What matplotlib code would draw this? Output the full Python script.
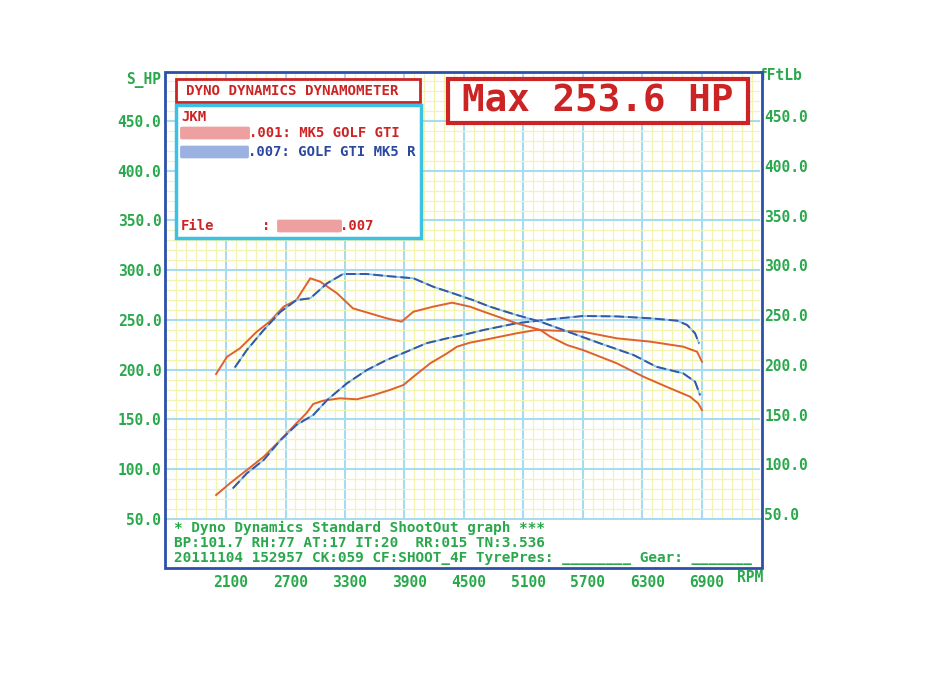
import matplotlib
matplotlib.use('Agg')
import matplotlib.pyplot as plt
from matplotlib.patches import Rectangle, FancyBboxPatch
from matplotlib.ticker import MultipleLocator, FixedLocator
import matplotlib.transforms as mtransforms

# ---------------- data ----------------
rpm_ticks = [2100, 2700, 3300, 3900, 4500, 5100, 5700, 6300, 6900]
hp_ticks = [50, 100, 150, 200, 250, 300, 350, 400, 450]
tq_ticks = [50, 100, 150, 200, 250, 300, 350, 400, 450]

# run .001 MK5 GOLF GTI (red)
red_tq_rpm = [2000, 2110, 2240, 2410, 2540, 2680, 2810, 2950, 3050, 3220, 3380, 3550, 3720,
              3870, 3990, 4190, 4380, 4560, 4700, 5030, 5270, 5370, 5540, 5700, 6040, 6310,
              6540, 6780, 6860, 6900]
red_tq = [190.7, 208.0, 216.5, 233.2, 243.3, 258.3, 265.0, 286.9, 283.5, 271.8, 256.7, 251.7,
          246.7, 243.3, 253.3, 258.4, 262.4, 258.4, 253.3, 241.7, 235.0, 228.2, 219.8, 214.8,
          201.5, 188.0, 178.0, 167.9, 161.3, 154.5]
red_hp_rpm = [2000, 2140, 2310, 2480, 2650, 2810, 2910, 2980, 3080, 3250, 3420, 3590, 3750,
              3890, 3990, 4160, 4330, 4430, 4560, 4700, 5030, 5230, 5700, 6040, 6380, 6710,
              6850, 6900]
red_hp = [74.1, 85.9, 99.2, 112.6, 129.4, 146.2, 156.2, 165.6, 168.9, 171.3, 170.3, 174.6,
          179.6, 184.7, 193.0, 206.5, 216.5, 223.2, 227.2, 229.9, 236.6, 240.0, 238.2, 231.6,
          228.2, 223.2, 218.1, 208.1]

# run .007 GOLF GTI MK5 R (blue)
blue_tq_rpm = [2190, 2310, 2480, 2650, 2810, 2950, 3120, 3280, 3520, 3720, 3990, 4190, 4390,
               4590, 4760, 5030, 5270, 5640, 5870, 6210, 6440, 6710, 6830, 6880]
blue_tq = [197.4, 214.8, 234.9, 253.3, 265.0, 266.8, 281.9, 291.2, 291.2, 289.2, 286.9, 278.4,
           271.8, 265.0, 258.4, 250.0, 243.3, 229.9, 221.6, 209.8, 198.0, 191.4, 183.0, 169.6]
blue_hp_rpm = [2170, 2310, 2480, 2650, 2810, 2980, 3120, 3320, 3520, 3720, 3920, 4120, 4330,
               4490, 4700, 5030, 5370, 5700, 6040, 6380, 6650, 6750, 6830, 6870]
blue_hp = [80.9, 95.9, 109.3, 129.4, 144.5, 154.5, 169.6, 186.4, 199.7, 209.8, 218.1, 226.6,
           231.6, 234.9, 240.0, 246.7, 250.7, 254.0, 253.6, 251.7, 249.3, 245.0, 236.6, 226.6]

# ---------------- style ----------------
W, H = 950, 674
GREEN = '#2aa84c'
RED = '#cc2424'
BLUE = '#2a48a0'
CYAN_BOX = '#3cc0e4'
FRAME = '#2c50a8'
LINE_RED = '#e0602e'
LINE_BLUE = '#3656aa'
LINE_BLUE_LIGHT = '#86c6e4'
MONO = 'DejaVu Sans Mono'

fig = plt.figure(figsize=(9.5, 6.74), dpi=100)
fig.patch.set_facecolor('white')


def fx(px):
    return px / W


def fy(py):
    return 1 - py / H


ax = fig.add_axes([fx(167), fy(519), fx(760) - fx(167), fy(74) - fy(519)])
ax.set_xlim(1505, 7485)
ax.set_ylim(50, 497.2)
ax.set_facecolor('white')
for s in ax.spines.values():
    s.set_visible(False)

ax.xaxis.set_major_locator(FixedLocator(rpm_ticks))
ax.xaxis.set_minor_locator(MultipleLocator(100))
ax.yaxis.set_major_locator(FixedLocator(hp_ticks))
ax.yaxis.set_minor_locator(MultipleLocator(10))
ax.set_axisbelow(True)
ax.grid(which='minor', color='#f3f3b2', linewidth=0.9)
ax.grid(which='major', color='#a6dcee', linewidth=1.5)

ax.set_xticklabels([str(v) for v in rpm_ticks])
ax.set_yticklabels(['%.1f' % v for v in hp_ticks])
ax.tick_params(axis='both', which='both', length=0)
ax.tick_params(axis='x', pad=40, labelsize=10.5, labelcolor=GREEN)
ax.tick_params(axis='y', pad=4, labelsize=10.5, labelcolor=GREEN)
for lab in ax.get_xticklabels() + ax.get_yticklabels():
    lab.set_fontfamily(MONO)
    lab.set_fontweight('bold')
offset = mtransforms.ScaledTranslation(5 / 100, 0, fig.dpi_scale_trans)
for lab in ax.get_xticklabels():
    lab.set_transform(lab.get_transform() + offset)

ax2 = ax.twinx()
ax2.set_ylim(45, 492.2)
for s in ax2.spines.values():
    s.set_visible(False)
ax2.yaxis.set_major_locator(FixedLocator(tq_ticks))
ax2.set_yticklabels(['%.1f' % v for v in tq_ticks])
ax2.tick_params(axis='y', length=0, pad=3, labelsize=10.5, labelcolor=GREEN)
for lab in ax2.get_yticklabels():
    lab.set_fontfamily(MONO)
    lab.set_fontweight('bold')

# curves
ax.plot(red_hp_rpm, red_hp, color=LINE_RED, lw=1.4, zorder=3)
ax2.plot(red_tq_rpm, red_tq, color=LINE_RED, lw=1.4, zorder=3)
ax.plot(blue_hp_rpm, blue_hp, color=LINE_BLUE_LIGHT, lw=1.3, zorder=3)
ax.plot(blue_hp_rpm, blue_hp, color=LINE_BLUE, lw=1.4, dashes=(5, 2), zorder=4)
ax2.plot(blue_tq_rpm, blue_tq, color=LINE_BLUE_LIGHT, lw=1.3, zorder=3)
ax2.plot(blue_tq_rpm, blue_tq, color=LINE_BLUE, lw=1.4, dashes=(5, 2), zorder=4)

# outer frame (includes footer area)
fig.add_artist(Rectangle((fx(165), fy(568)), fx(762) - fx(165), fy(72) - fy(568),
                         transform=fig.transFigure, fill=False, edgecolor=FRAME, lw=2.0, zorder=10))
# footer white region
fig.add_artist(Rectangle((fx(166), fy(567)), fx(761) - fx(166), fy(520) - fy(567),
                         transform=fig.transFigure, facecolor='white', edgecolor='none', zorder=5))
fig.add_artist(plt.Line2D([fx(166), fx(761)], [fy(519), fy(519)], transform=fig.transFigure,
                          color='#a6dcee', lw=1.4, zorder=6))

# axis unit labels
fig.text(fx(161), fy(80), 'S_HP', ha='right', va='center', color=GREEN, fontsize=10.5,
         family=MONO, weight='bold')
fig.text(fx(759), fy(75), 'fFtLb', ha='left', va='center', color=GREEN, fontsize=10.5,
         family=MONO, weight='bold')
fig.text(fx(737), fy(578), 'RPM', ha='left', va='center', color=GREEN, fontsize=10.5,
         family=MONO, weight='bold')

# header box
fig.add_artist(Rectangle((fx(176), fy(102)), fx(420) - fx(176), fy(79) - fy(102),
                         transform=fig.transFigure, facecolor='white', edgecolor=RED, lw=2.0, zorder=11))
fig.text(fx(186), fy(91), 'DYNO DYNAMICS DYNAMOMETER', ha='left', va='center', color=RED,
         fontsize=10.2, family=MONO, weight='bold', zorder=12)

# legend box
fig.add_artist(Rectangle((fx(176), fy(238)), fx(421) - fx(176), fy(105) - fy(238),
                         transform=fig.transFigure, facecolor='white', edgecolor=CYAN_BOX, lw=2.5, zorder=11))
fig.text(fx(181), fy(117), 'JKM', ha='left', va='center', color=RED, fontsize=10,
         family=MONO, weight='bold', zorder=12)
# redacted smudges
for (x0, x1, yc, col) in [(182, 248, 133, '#eb8e8e'), (182, 247, 152, '#8aa4dc'),
                          (279, 340, 226, '#eb8e8e')]:
    fig.add_artist(FancyBboxPatch((fx(x0), fy(yc + 5)), fx(x1) - fx(x0), fy(yc - 5) - fy(yc + 5),
                                  boxstyle='round,pad=0.002', transform=fig.transFigure,
                                  facecolor=col, edgecolor='none', alpha=0.85, zorder=12))
fig.text(fx(249), fy(133), '.001: MK5 GOLF GTI', ha='left', va='center', color=RED,
         fontsize=10, family=MONO, weight='bold', zorder=12)
fig.text(fx(248), fy(152), '.007: GOLF GTI MK5 R', ha='left', va='center', color=BLUE,
         fontsize=10, family=MONO, weight='bold', zorder=12)
fig.text(fx(181), fy(226), 'File', ha='left', va='center', color=RED, fontsize=10,
         family=MONO, weight='bold', zorder=12)
fig.text(fx(262), fy(226), ':', ha='left', va='center', color=RED, fontsize=10,
         family=MONO, weight='bold', zorder=12)
fig.text(fx(340), fy(226), '.007', ha='left', va='center', color=RED, fontsize=10,
         family=MONO, weight='bold', zorder=12)

# max box
fig.add_artist(Rectangle((fx(448), fy(123)), fx(748) - fx(448), fy(79) - fy(123),
                         transform=fig.transFigure, facecolor='white', edgecolor=RED, lw=3.0, zorder=11))
fig.text(fx(598), fy(101), 'Max 253.6 HP', ha='center', va='center', color=RED,
         fontsize=27, family=MONO, weight='bold', zorder=12)

# footer text
footer = ['* Dyno Dynamics Standard ShootOut graph ***',
          'BP:101.7 RH:77 AT:17 IT:20  RR:015 TN:3.536',
          '20111104 152957 CK:059 CF:SHOOT_4F TyrePres: ________ Gear: _______']
for i, line in enumerate(footer):
    fig.text(fx(174), fy(528 + 15 * i), line, ha='left', va='center', color=GREEN,
             fontsize=10.4, family=MONO, weight='bold', zorder=12)

fig.savefig('out.png', dpi=100, facecolor='white')
